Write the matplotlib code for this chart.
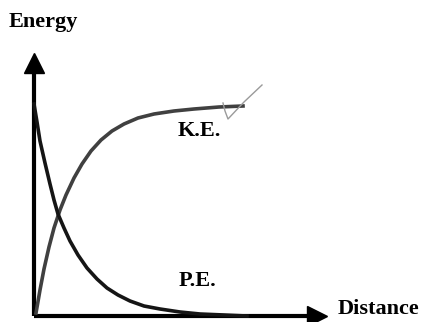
import matplotlib.pyplot as plt

# curves (distance, energy)
ke_x = [2, 6, 10, 15, 20, 26, 32, 40, 48, 57, 67, 78, 90, 104, 120, 140, 160, 185, 209]
ke_y = [3, 26, 47, 69, 88, 106, 121, 138, 152, 165, 176, 185, 192, 198, 202, 205, 207, 209, 210]
pe_x = [0, 3, 6, 11, 16, 20, 24, 30, 36, 44, 53, 63, 73, 84, 96, 110, 126, 146, 166, 190, 213]
pe_y = [212, 194, 175, 153, 132, 116, 102, 88, 75, 61, 48, 37, 28, 21, 15, 10, 7, 4, 2, 1, 0]
check_x = [189, 191, 194, 210, 228]
check_y = [213, 205, 197, 214, 231]

plt.rcParams['font.family'] = ['Liberation Serif', 'DejaVu Serif']

fig = plt.figure(figsize=(4.27, 3.22), dpi=100)
ax = fig.add_axes([34 / 427, 6 / 322, 291 / 427, 264 / 322])
ax.set_xlim(0, 291)
ax.set_ylim(0, 264)
ax.axis('off')

# axes with arrow heads
ax.plot([0, 283], [0, 0], color='black', lw=3, solid_capstyle='butt', clip_on=False)
ax.plot([0, 0], [0, 253], color='black', lw=3, solid_capstyle='butt', clip_on=False)
ax.plot([283], [0], marker='>', ms=14, color='black', clip_on=False)
ax.plot([0], [253], marker='^', ms=14, color='black', clip_on=False)

ax.plot(ke_x, ke_y, color='#404040', lw=2.6, clip_on=False)
ax.plot(pe_x, pe_y, color='#151515', lw=2.6, clip_on=False)
ax.plot(check_x, check_y, color='#9a9a9a', lw=1, clip_on=False)

ax.text(165, 185, 'K.E.', fontsize=16, fontweight='bold', ha='center', va='center')
ax.text(163, 35, 'P.E.', fontsize=16, fontweight='bold', ha='center', va='center')
ax.text(345, 7, 'Distance', fontsize=16, fontweight='bold', ha='center', va='center', clip_on=False)
ax.text(9, 294, 'Energy', fontsize=16, fontweight='bold', ha='center', va='center', clip_on=False)

fig.savefig('out.png', dpi=100)
